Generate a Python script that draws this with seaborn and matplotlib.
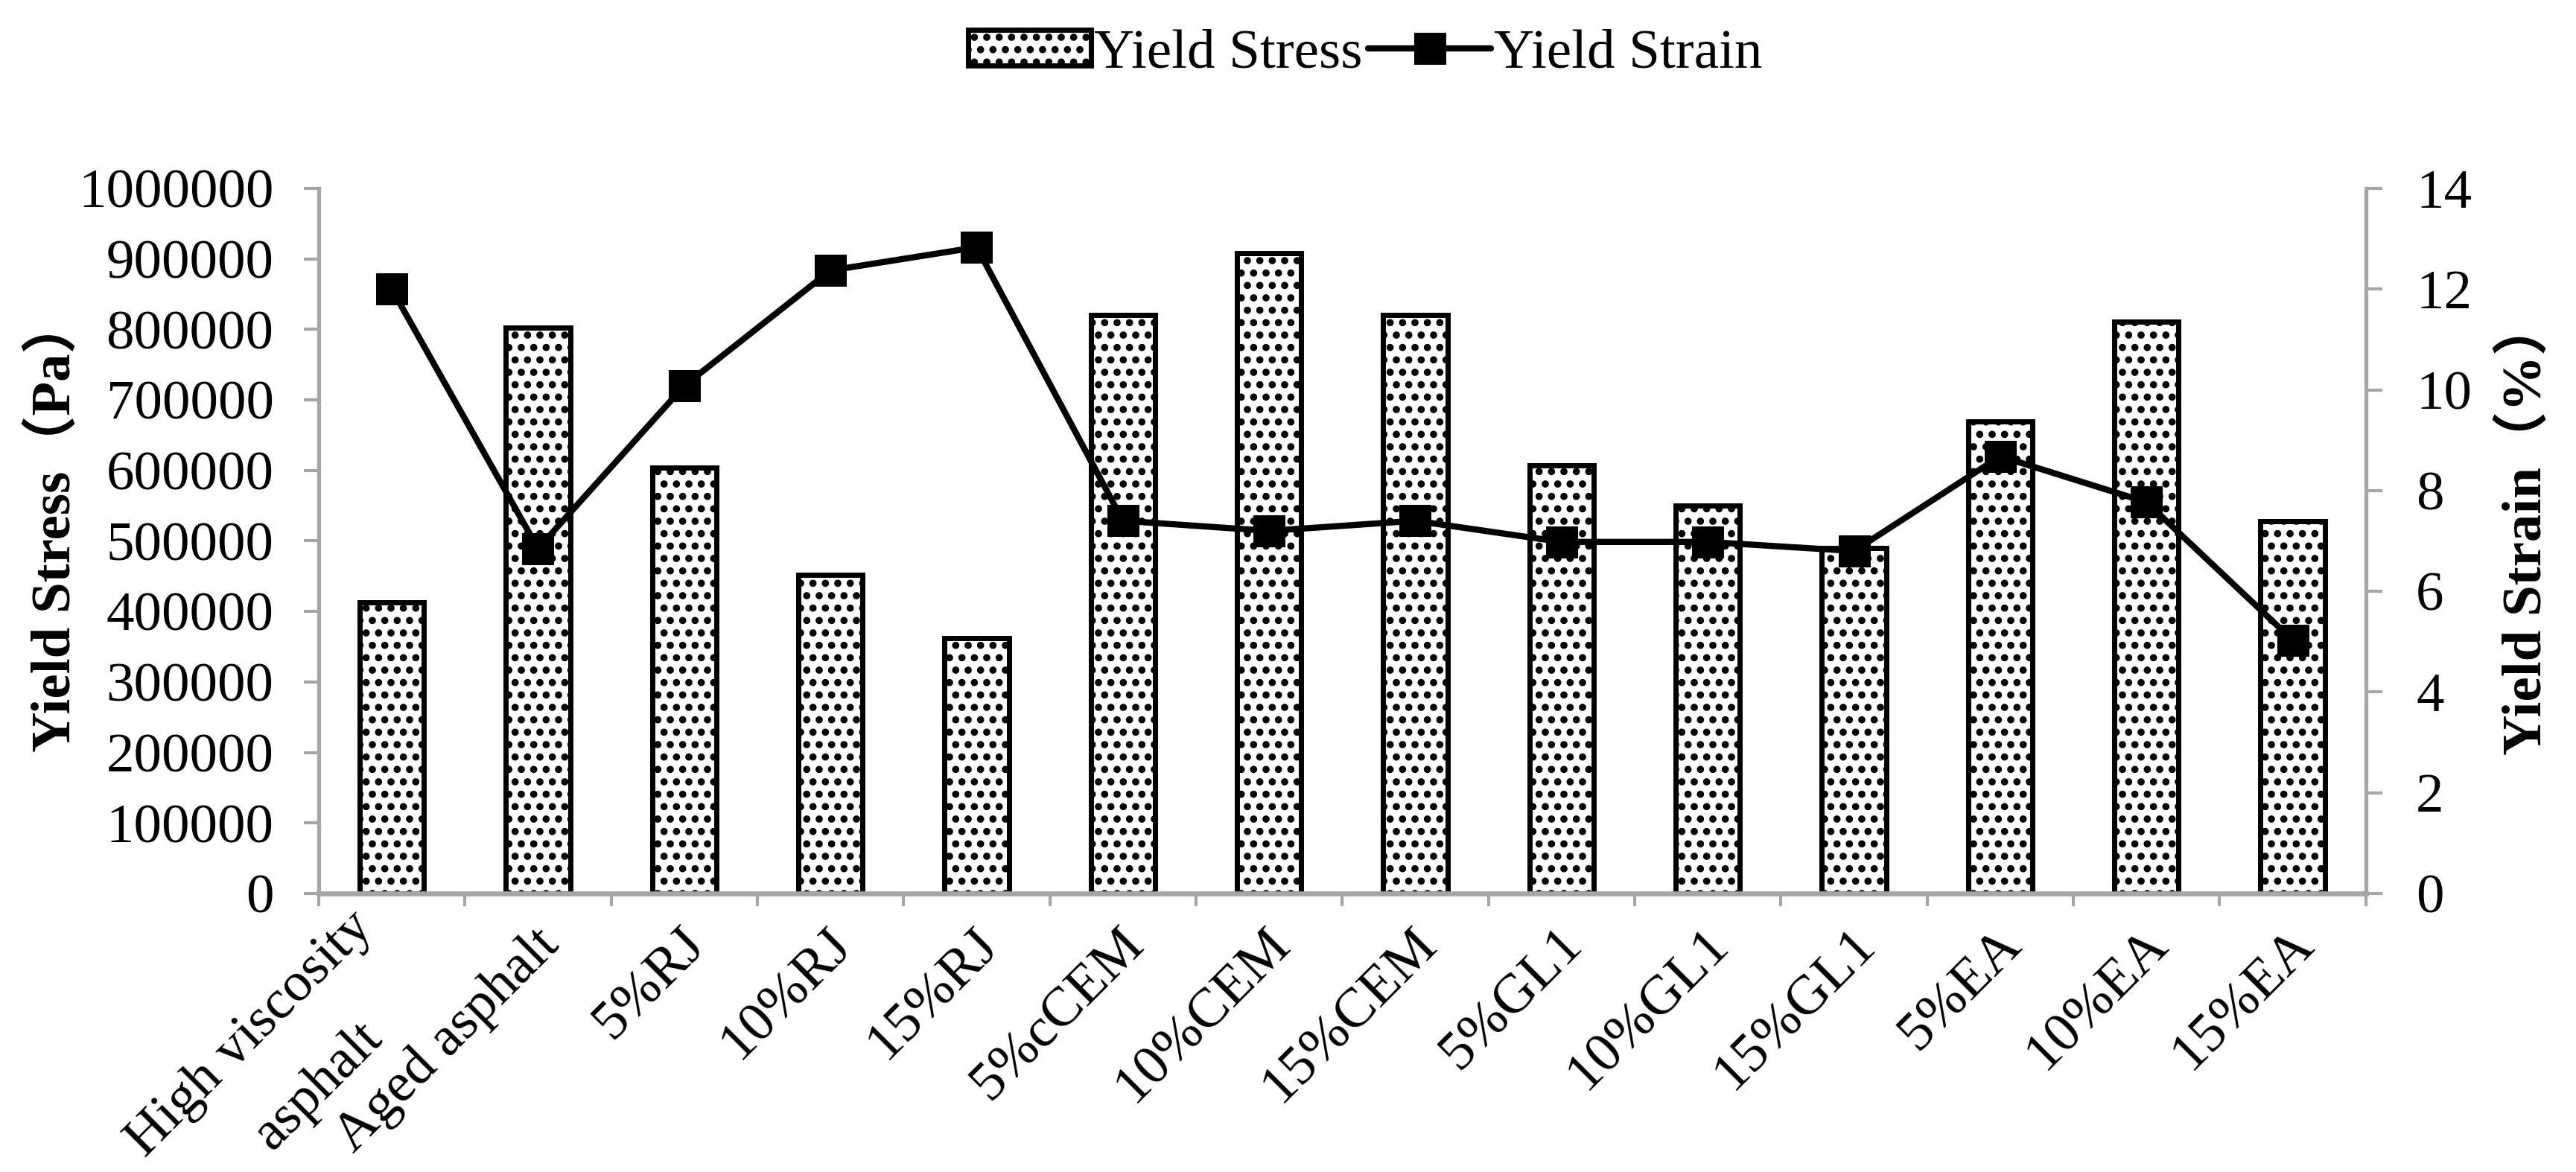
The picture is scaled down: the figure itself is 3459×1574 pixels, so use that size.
import numpy as np
import pandas as pd
import matplotlib
matplotlib.use("Agg")
import matplotlib.pyplot as plt
import seaborn as sns
from matplotlib.transforms import ScaledTranslation

# ---------------- data ----------------
categories = ["High viscosity\nasphalt", "Aged asphalt", "5%RJ", "10%RJ", "15%RJ",
              "5%cCEM", "10%CEM", "15%CEM", "5%GL1", "10%GL1", "15%GL1",
              "5%EA", "10%EA", "15%EA"]
yield_stress = [413000, 802000, 604000, 452000, 362000, 820000, 908000,
                820000, 607000, 550000, 490000, 669000, 811000, 528000]
yield_strain = [12.0, 6.85, 10.08, 12.37, 12.83, 7.40, 7.20,
                7.40, 6.98, 6.98, 6.80, 8.68, 7.77, 5.03]
stress_ticks = [0, 100000, 200000, 300000, 400000, 500000,
                600000, 700000, 800000, 900000, 1000000]
strain_ticks = [0, 2, 4, 6, 8, 10, 12, 14]

# ---------------- style ----------------
sns.set_theme(style="white")
plt.rcParams["font.family"] = ["Liberation Serif", "Noto Sans CJK SC"]
plt.rcParams["hatch.linewidth"] = 4.5
plt.rcParams["hatch.color"] = "black"
plt.rcParams["text.color"] = "black"
plt.rcParams["axes.labelcolor"] = "black"

GRAY = "#A6A6A6"
FS = 54

fig = plt.figure(figsize=(34.59, 15.74), dpi=100)
ax = fig.add_axes([0.1237, 0.2376, 0.7947, 0.6017])

df = pd.DataFrame({"Sample": categories, "Stress": yield_stress, "Strain": yield_strain})
sns.barplot(data=df, x="Sample", y="Stress", ax=ax, color="white", saturation=1,
            edgecolor="black", linewidth=5, width=0.44, hatch=".",
            label="Yield Stress", zorder=2)

ax2 = ax.twinx()
positions = np.arange(len(categories))
sns.lineplot(x=positions, y=df["Strain"].values, ax=ax2, color="black", linewidth=6,
             marker="s", markersize=30, markeredgecolor="black",
             markerfacecolor="black", sort=False, label="Yield Strain", zorder=3)

for a in (ax, ax2):
    if a.get_legend() is not None:
        a.get_legend().remove()

# limits & ticks
ax.set_ylim(0, 1000000)
ax.set_yticks(stress_ticks)
ax.set_yticklabels([str(t) for t in stress_ticks])
ax2.set_ylim(0, 14)
ax2.set_yticks(strain_ticks)
ax2.set_yticklabels([str(t) for t in strain_ticks])

edges = np.arange(len(categories) + 1) - 0.5
ax.set_xticks(edges)
ax.set_xticklabels([""] * len(edges))
ax.set_xticks(positions, minor=True)
first_lines = [c.split("\n")[0] for c in categories]
ax.set_xticklabels(first_lines, minor=True, rotation=45, ha="right", va="center",
                   rotation_mode="anchor")
ax.set_xlim(-0.5, len(categories) - 0.5)
ax.set_xlabel("")

# spines
for s in ["top", "right"]:
    ax.spines[s].set_visible(False)
for s in ["top", "left", "bottom"]:
    ax2.spines[s].set_visible(False)
ax.spines["left"].set_color(GRAY)
ax.spines["left"].set_linewidth(3.8)
ax.spines["bottom"].set_color(GRAY)
ax.spines["bottom"].set_linewidth(4.8)
ax2.spines["right"].set_color(GRAY)
ax2.spines["right"].set_linewidth(3.8)

ax.tick_params(axis="y", which="major", left=True, direction="out", length=14.4,
               width=3.0, color=GRAY, pad=29, labelsize=FS, labelcolor="black")
ax2.tick_params(axis="y", which="major", right=True, direction="out", length=15.5,
                width=3.0, color=GRAY, pad=33, labelsize=FS, labelcolor="black")
ax.tick_params(axis="x", which="major", bottom=True, direction="out", length=12.2,
               width=3.0, color=GRAY)
ax.tick_params(axis="x", which="minor", bottom=True, length=0, pad=42,
               labelsize=FS, labelcolor="black")

offset_single = ScaledTranslation(0.18, 0, fig.dpi_scale_trans)
offset_multi = ScaledTranslation(-0.36, 0.23, fig.dpi_scale_trans)
for i, lab in enumerate(ax.get_xticklabels(minor=True)):
    if "\n" in categories[i]:
        lab.set_transform(lab.get_transform() + offset_multi)
        # continuation lines of a two-line category label
        for j, extra in enumerate(categories[i].split("\n")[1:]):
            ax.annotate(extra, xy=(positions[i], 0), xycoords=ax.get_xaxis_transform(),
                        xytext=(-16.6, -132.5 * (j + 1)), textcoords="offset points",
                        rotation=45, ha="right", va="center", rotation_mode="anchor",
                        fontsize=FS, color="black", annotation_clip=False)
    else:
        lab.set_transform(lab.get_transform() + offset_single)

ax.set_ylabel("Yield Stress（Pa）", fontsize=FS, fontweight="bold")
ax.yaxis.set_label_coords(-0.1155, 0.523)
ax2.set_ylabel("Yield Strain（%）", fontsize=FS, fontweight="bold")
ax2.yaxis.set_label_coords(1.0655, 0.52)

h1, l1 = ax.get_legend_handles_labels()
h2, l2 = ax2.get_legend_handles_labels()
fig.legend(h1 + h2, l1 + l2, loc="center", bbox_to_anchor=(0.530, 0.954), ncol=2,
           frameon=False, fontsize=FS, handlelength=2.2, handleheight=0.6,
           handletextpad=0.05, columnspacing=0.1)

fig.savefig("out.png", dpi=100)
